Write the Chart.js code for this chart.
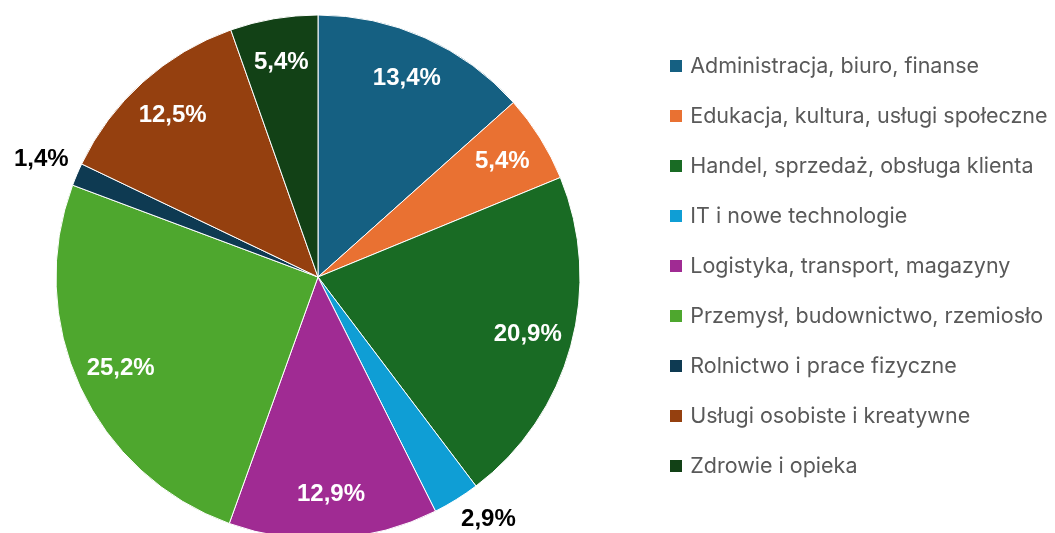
<!DOCTYPE html>
<html>
<head>
<meta charset="utf-8">
<script src="https://cdn.jsdelivr.net/npm/chart.js@4.4.1/dist/chart.umd.min.js"></script>
<style>
  html, body { margin: 0; padding: 0; background: #fff; overflow: hidden; }
  #wrap { position: absolute; left: -8px; top: 0; }
</style>
</head>
<body>
<div id="wrap"><canvas id="pie" width="1063" height="540"></canvas></div>
<script>
const categories = [
  'Administracja, biuro, finanse',
  'Edukacja, kultura, usługi społeczne',
  'Handel, sprzedaż, obsługa klienta',
  'IT i nowe technologie',
  'Logistyka, transport, magazyny',
  'Przemysł, budownictwo, rzemiosło',
  'Rolnictwo i prace fizyczne',
  'Usługi osobiste i kreatywne',
  'Zdrowie i opieka'
];
const shares = [13.4, 5.4, 20.9, 2.9, 12.9, 25.2, 1.4, 12.5, 5.4];
const colors = ['#156082', '#E97132', '#196B24', '#0F9ED5', '#A02B93', '#4EA72E', '#0E3A52', '#95400F', '#124116'];

// kwadraciki do legendy (12x12)
const swatches = colors.map(c => {
  const cv = document.createElement('canvas');
  cv.width = 12; cv.height = 12;
  const g = cv.getContext('2d');
  g.fillStyle = c;
  g.fillRect(0, 0, 12, 12);
  return cv;
});

// etykiety procentowe na wycinkach
const sliceLabels = {
  id: 'sliceLabels',
  afterDatasetsDraw(chart) {
    const ctx = chart.ctx;
    const meta = chart.getDatasetMeta(0);
    ctx.save();
    ctx.font = 'bold 24px "Liberation Sans", Arial, sans-serif';
    ctx.textAlign = 'center';
    ctx.textBaseline = 'middle';
    meta.data.forEach((arc, i) => {
      const p = arc.getProps(['x', 'y', 'startAngle', 'endAngle', 'outerRadius'], true);
      const mid = (p.startAngle + p.endAngle) / 2;
      const cx = Math.cos(mid), cy = Math.sin(mid);
      const txt = shares[i].toFixed(1).replace('.', ',') + '%';
      let lx, ly;
      if (shares[i] < 4) {
        // poza kołem, przy krawędzi
        const hw = ctx.measureText(txt).width / 2, hh = 12, gap = 9;
        lx = p.x + cx * (p.outerRadius + gap) + Math.sign(cx) * hw;
        ly = p.y + cy * (p.outerRadius + gap) + Math.sign(cy) * hh;
        ctx.fillStyle = '#000000';
      } else {
        lx = p.x + cx * p.outerRadius * 0.83;
        ly = p.y + cy * p.outerRadius * 0.83;
        ctx.fillStyle = '#ffffff';
      }
      ctx.fillText(txt, lx, ly);
    });
    ctx.restore();
  }
};

new Chart(document.getElementById('pie'), {
  type: 'pie',
  data: {
    labels: categories,
    datasets: [{
      data: shares,
      backgroundColor: colors,
      borderColor: '#ffffff',
      borderWidth: 1,
      radius: 262,
      clip: false
    }]
  },
  options: {
    responsive: false,
    animation: false,
    layout: { padding: { top: 27, bottom: 13, left: 0, right: 0 } },
    plugins: {
      tooltip: { enabled: false },
      legend: {
        position: 'right',
        align: 'start',
        maxWidth: 411,
        labels: {
          usePointStyle: true,
          pointStyleWidth: 7,
          boxHeight: 12,
          padding: 28.5,
          color: '#595959',
          font: { family: 'Inter', size: 21.5 },
          generateLabels(chart) {
            const items = Chart.overrides.pie.plugins.legend.labels.generateLabels(chart);
            items.forEach((it, i) => { it.lineWidth = 0; it.pointStyle = swatches[i]; });
            return items;
          }
        }
      }
    }
  },
  plugins: [sliceLabels]
});
</script>
</body>
</html>
